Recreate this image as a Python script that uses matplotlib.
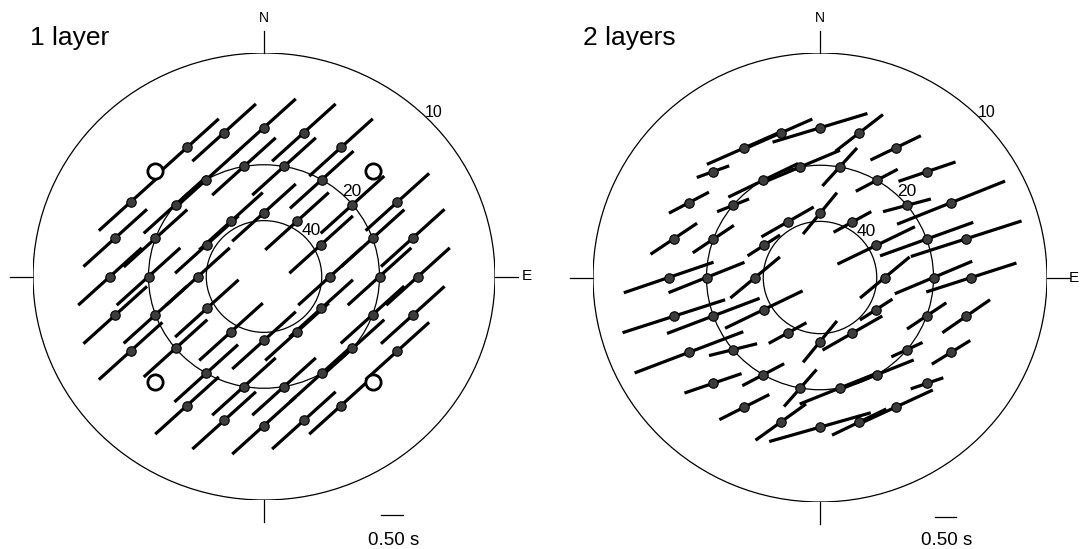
import numpy as np
import matplotlib.pyplot as plt
from matplotlib.patches import Ellipse

plt.rcParams['font.family'] = ['Liberation Sans', 'DejaVu Sans']

# ring labels: plotted radius = 10 / label
RING_LABELS = [10, 20, 40]

# event rings (distance value -> radius 10/d) and their back-azimuths
D_OUTER, D_MID, D_INNER = 15, 20, 35
AZ_OUTER = [0, 15, 30, 45, 60, 75, 90, 105, 120, 135, 150, 165,
            180, 195, 210, 225, 240, 255, 270, 285, 300, 315, 330, 345]
AZ_MID = [10, 30, 50, 70, 90, 110, 130, 150, 170,
          190, 210, 230, 250, 270, 290, 310, 330, 350]
AZ_INNER = [0, 30, 60, 90, 120, 150, 180, 210, 240, 270, 300, 330]
AZ_NULL_1 = [45, 135, 225, 315]          # open circles, 1 layer

# 1 layer: constant fast direction / delay
PHI_1 = 47
DT_1 = 1.98

# 2 layers: apparent fast direction (deg) and delay (s) per event
PHI_2_OUTER = [73, 52, 64, 71, 68, 72, 72, 55, 58, 71, 65, 64,
               74, 54, 63, 71, 69, 72, 71, 56, 62, 70, 66, 66]
DT_2_OUTER = [2.3, 1.4, 1.3, 1.4, 2.7, 2.7, 2.2, 1.35, 1.05, 0.8, 1.9, 1.4,
              2.45, 1.45, 1.3, 1.4, 2.7, 2.5, 2.2, 1.3, 1.05, 0.8, 1.9, 1.6]
PHI_2_MID = [42, 62, 75, 70, 67, 56, 65, 68, 68,
             41, 62, 76, 69, 68, 56, 68, 64, 67]
DT_2_MID = [1.2, 1.1, 1.15, 2.3, 1.95, 1.1, 0.8, 1.85, 2.0,
            1.15, 1.1, 1.15, 2.3, 1.9, 1.15, 0.8, 1.8, 2.0]
PHI_2_INNER = [39, 61, 64, 50, 57, 60, 39, 61, 64, 50, 57, 60]
DT_2_INNER = [1.25, 1.0, 2.0, 1.5, 0.9, 1.6, 1.25, 1.0, 2.0, 1.5, 0.9, 1.4]

SCALE_DT = 0.5  # scale bar, s

# panel placement (pixels in the 1081x549 image: circle left, right, top, bottom)
PANELS = [(33, 495, 53, 500), (593, 1047, 53, 502)]
TITLES = ['1 layer', '2 layers']
TITLE_X = [-1.013, -1.044]
E_X = [1.115, 1.095]
SCALE_TXT_Y = [-1.2, -1.19]

W, H = 1081, 549
S_PER_UNIT = 0.5 / 0.095  # seconds per unit radius


def xy(r, az):
    a = np.radians(az)
    return r * np.sin(a), r * np.cos(a)


def bar(ax, x, y, phi, dt):
    dx, dy = xy(dt / S_PER_UNIT / 2, phi)
    ax.plot([x - dx, x + dx], [y - dy, y + dy], color='black', lw=2.3,
            solid_capstyle='butt', zorder=3)


def dot(ax, x, y):
    ax.plot(x, y, 'o', ms=6.8, mfc='#3c3c3c', mec='black', mew=0.8, zorder=4)


def frame(ax, title, tx, ex, sy):
    ax.set_xlim(-1, 1)
    ax.set_ylim(-1, 1)
    ax.axis('off')
    ax.add_patch(Ellipse((0, 0), 2, 2, fill=False, lw=0.9, color='black'))
    for lab in RING_LABELS[1:]:
        r = 10 / lab
        ax.add_patch(Ellipse((0, 0), 2 * r, 2 * r, fill=False, lw=0.9, color='black'))
    for lab, fs in zip(RING_LABELS, [11.5, 12.5, 12.5]):
        lx, ly = xy(10 / lab + 0.04, 45)
        ax.text(lx, ly, str(lab), fontsize=fs, ha='center', va='center', zorder=5)
    k = dict(color='black', lw=0.9, clip_on=False)
    ax.plot([0, 0], [1, 1.1], **k)
    ax.plot([0, 0], [-1, -1.1], **k)
    ax.plot([-1, -1.1], [0, 0], **k)
    ax.plot([1, 1.1], [0, 0], **k)
    ax.text(0, 1.157, 'N', fontsize=10, ha='center', va='center')
    ax.text(ex, 0, 'E', fontsize=11, ha='left', va='center', clip_on=False)
    ax.text(tx, 1.067, title, fontsize=19, ha='left', va='center')
    # scale bar
    ax.plot([0.505, 0.505 + SCALE_DT / S_PER_UNIT], [-1.065, -1.065], **k)
    ax.text(0.56, sy, '0.50 s', fontsize=13.5, ha='center', va='baseline')


fig = plt.figure(figsize=(W / 100, H / 100), dpi=100)
axes = []
for (x0, x1, y0, y1), title, tx, ex, sy in zip(PANELS, TITLES, TITLE_X, E_X, SCALE_TXT_Y):
    ax = fig.add_axes([x0 / W, 1 - y1 / H, (x1 - x0) / W, (y1 - y0) / H])
    frame(ax, title, tx, ex, sy)
    axes.append(ax)

# 1 layer
ax = axes[0]
for d, azs in [(D_OUTER, AZ_OUTER), (D_MID, AZ_MID), (D_INNER, AZ_INNER)]:
    for az in azs:
        if d == D_OUTER and az in AZ_NULL_1:
            continue
        x, y = xy(10 / d, az)
        bar(ax, x, y, PHI_1, DT_1)
        dot(ax, x, y)
for az in AZ_NULL_1:
    x, y = xy(10 / D_OUTER, az)
    ax.plot(x, y, 'o', ms=11, mfc='white', mec='black', mew=2, zorder=4)

# 2 layers
ax = axes[1]
for d, azs, phis, dts in [(D_OUTER, AZ_OUTER, PHI_2_OUTER, DT_2_OUTER),
                          (D_MID, AZ_MID, PHI_2_MID, DT_2_MID),
                          (D_INNER, AZ_INNER, PHI_2_INNER, DT_2_INNER)]:
    for az, phi, dt in zip(azs, phis, dts):
        x, y = xy(10 / d, az)
        bar(ax, x, y, phi, dt)
        dot(ax, x, y)

fig.savefig('out.png', dpi=100)
